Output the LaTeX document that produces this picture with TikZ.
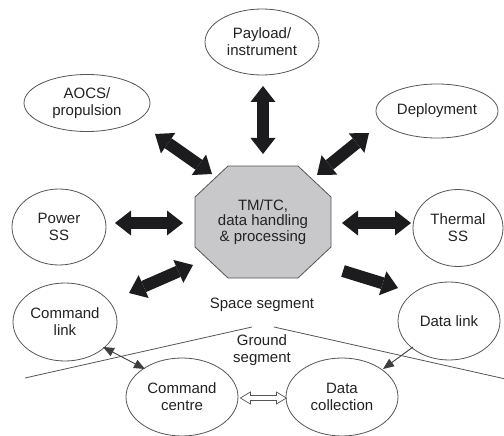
\documentclass[tikz,border=0pt]{standalone}
\usepackage{fontspec}
\setmainfont{Liberation Sans}
\usetikzlibrary{arrows.meta,shapes.geometric,calc}
\definecolor{txt}{HTML}{222222}
\definecolor{edgec}{HTML}{555555}
\definecolor{hubfill}{HTML}{C8C8CA}
\definecolor{arr}{HTML}{1C1C1E}
\begin{document}
\begin{tikzpicture}[x=1pt,y=-1pt,
  font=\fontsize{15}{17}\selectfont,
  unit/.style={ellipse, draw=edgec, line width=0.8pt, inner sep=0pt, align=center, text=txt},
  bigboth/.style={draw=arr, line width=12pt, {Triangle[length=16pt,width=25pt,line width=0pt]}-{Triangle[length=16pt,width=25pt,line width=0pt]}},
  bigone/.style={draw=arr, line width=12pt, -{Triangle[length=16pt,width=25pt,line width=0pt]}},
  thinboth/.style={draw=arr!85, line width=0.9pt, {Triangle[length=11pt,width=9pt]}-{Triangle[length=11pt,width=9pt]}},
  thinone/.style={draw=arr!85, line width=0.9pt, -{Triangle[length=11pt,width=9pt]}},
  hollow/.style={draw=edgec, line width=0.7pt, fill=white, line join=miter},
  segline/.style={draw=edgec, line width=0.8pt},
  label/.style={text=txt, align=center, inner sep=0pt}
]
\useasboundingbox (0,0) rectangle (504,436);

% ellipses
\node[unit, minimum width=114pt, minimum height=66pt] (pay) at (262,42) {Payload/\\instrument};
\node[unit, minimum width=126pt, minimum height=57pt] (aocs) at (87,103) {AOCS/\\propulsion};
\node[unit, minimum width=122pt, minimum height=54pt] (dep) at (437,111) {Deployment};
\node[unit, minimum width=94pt, minimum height=76pt] (pow) at (59,227) {Power\\SS};
\node[unit, minimum width=90pt, minimum height=77pt] (therm) at (458,228) {Thermal\\SS};
\node[unit, minimum width=104pt, minimum height=78pt] (cl) at (65,322) {Command\\link};
\node[unit, minimum width=102pt, minimum height=78pt] (dl) at (449,321) {Data link};
\node[unit, minimum width=112pt, minimum height=78pt] (cc) at (182,397) {Command\\centre};
\node[unit, minimum width=112pt, minimum height=78pt] (dc) at (342,397) {Data\\collection};

% central octagon
\coordinate (hc) at (263,222);
\draw[draw=edgec, line width=0.8pt, fill=hubfill]
  ($(hc)+(-35,-56)$) -- ($(hc)+(35,-56)$) -- ($(hc)+(68,-25)$) -- ($(hc)+(68,25)$)
  -- ($(hc)+(35,56)$) -- ($(hc)+(-35,56)$) -- ($(hc)+(-68,25)$) -- ($(hc)+(-68,-25)$) -- cycle;
\node[label, font=\fontsize{15}{15.5}\selectfont] (hub) at (hc) {TM/TC,\\data handling\\\& processing};

% big arrows
\coordinate (payA) at (263,86);  \coordinate (payB) at (263,154);
\coordinate (aocsA) at (155,134); \coordinate (aocsB) at (212,174);
\coordinate (depA) at (369,133); \coordinate (depB) at (317,175);
\coordinate (powA) at (115,223); \coordinate (powB) at (183,223);
\coordinate (thA) at (342,223); \coordinate (thB) at (411,223);
\coordinate (clA) at (129,293); \coordinate (clB) at (193,265);
\coordinate (dlA) at (343,271); \coordinate (dlB) at (398,288);
\draw[bigboth] (payA) -- (payB);
\draw[bigboth] (aocsA) -- (aocsB);
\draw[bigboth] (depA) -- (depB);
\draw[bigboth] (powA) -- (powB);
\draw[bigboth] (thA) -- (thB);
\draw[bigboth] (clA) -- (clB);
\draw[bigone] (dlA) -- (dlB);

% segment boundary
\coordinate (s1) at (25,378); \coordinate (s2) at (252,327);
\coordinate (s3) at (274,327); \coordinate (s4) at (510,380);
\draw[segline] (s1) -- (s2);
\draw[segline] (s3) -- (s4);
\node[label] (space) at (262,305) {Space segment};
\node[label] (ground) at (262,350) {Ground\\segment};

% thin arrows
\coordinate (t1) at (103,347); \coordinate (t2) at (145,369);
\coordinate (t3) at (413,347); \coordinate (t4) at (383,369);
\draw[thinboth] (t1) -- (t2);
\draw[thinone] (t3) -- (t4);

% hollow arrow
\coordinate (hl) at ($(cc.east)+(2,1)$);
\draw[hollow] (hl) -- ++(10,-6) -- ++(0,3.5) -- ++(26,0) -- ++(0,-3.5) -- ++(10,6)
  -- ++(-10,6) -- ++(0,-3.5) -- ++(-26,0) -- ++(0,3.5) -- cycle;
\end{tikzpicture}
\end{document}
